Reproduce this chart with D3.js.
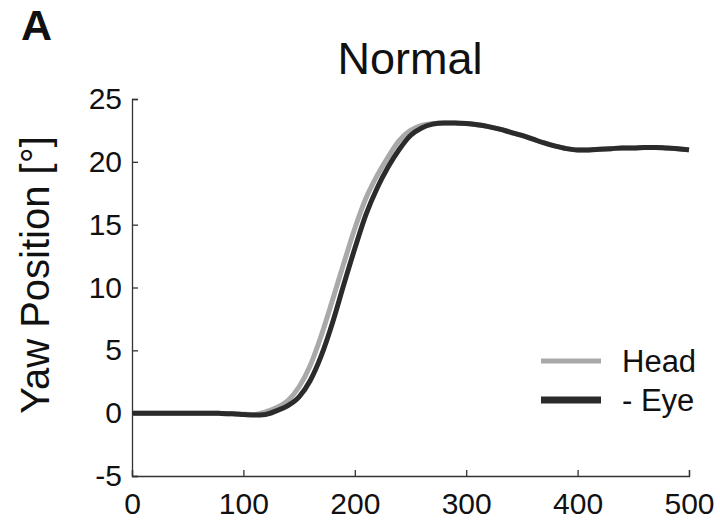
<!DOCTYPE html>
<html>
<head>
<meta charset="utf-8">
<script src="https://cdn.jsdelivr.net/npm/d3@7"></script>
<style>
  body { margin: 0; background: #fff; }
  text { font-family: "Liberation Sans", Arial, sans-serif; fill: #111; }
</style>
</head>
<body>
<script>
// time axis (ms) and yaw positions (deg)
const timeMs = [0, 10, 20, 30, 40, 50, 60, 70, 80, 90, 100, 110, 120, 130, 140, 150, 160, 170, 180, 190,
  200, 210, 220, 230, 240, 250, 260, 270, 280, 290, 300, 310, 320, 330, 340, 350, 360, 370, 380, 390,
  400, 410, 420, 430, 440, 450, 460, 470, 480, 490, 500];
const headYaw = [0, 0, 0, 0, 0, 0, 0, 0, -0.02, -0.05, -0.08, -0.1, 0.1, 0.45, 1.0, 2.1, 3.8, 6.2, 9.0, 11.9,
  14.7, 17.1, 18.9, 20.4, 21.7, 22.5, 22.9, 23.05, 23.1, 23.1, 23.05, 22.95, 22.8, 22.6, 22.35, 22.1, 21.8, 21.5, 21.25, 21.05,
  20.95, 20.95, 21.0, 21.05, 21.1, 21.1, 21.15, 21.15, 21.1, 21.05, 20.95];
const eyeYaw = [0, 0, 0, 0, 0, 0, 0, 0, -0.02, -0.05, -0.1, -0.15, -0.1, 0.2, 0.6, 1.3, 2.6, 4.6, 7.2, 10.2,
  13.1, 15.8, 17.9, 19.6, 21.0, 22.1, 22.7, 23.0, 23.1, 23.1, 23.05, 22.95, 22.8, 22.6, 22.35, 22.1, 21.8, 21.5, 21.25, 21.05,
  20.95, 20.95, 21.0, 21.05, 21.1, 21.1, 21.15, 21.15, 21.1, 21.05, 20.95];
const xTicks = [0, 100, 200, 300, 400, 500];
const yTicks = [-5, 0, 5, 10, 15, 20, 25];
const legendLabels = ["Head", "- Eye"];

const W = 720, H = 523;
const margin = { top: 99, right: 31, bottom: 47, left: 132 };
const width = W - margin.left - margin.right,
  height = H - margin.top - margin.bottom;

const svg = d3.select("body").append("svg")
  .attr("width", W).attr("height", H);

const g = svg.append("g")
  .attr("transform", "translate(" + margin.left + "," + margin.top + ")");

const x = d3.scaleLinear().domain([0, 500]).range([0, width]);
const y = d3.scaleLinear().domain([-5, 25]).range([height, 0]);

// plain hyphen for negatives, like the original figure
const fmt = d => String(d);

// axes, MATLAB style ticks pointing inward
const xAxis = g.append("g")
  .attr("transform", "translate(0," + height + ")")
  .call(d3.axisBottom(x).tickValues(xTicks).tickSize(-6).tickPadding(17).tickFormat(fmt));
const yAxis = g.append("g")
  .call(d3.axisLeft(y).tickValues(yTicks).tickSize(-6).tickPadding(10).tickFormat(fmt));

[xAxis, yAxis].forEach(a => {
  a.selectAll("path, line").attr("stroke", "#333").attr("stroke-width", 1.3);
  a.selectAll("text").style("font-size", "30px").attr("fill", "#111");
});

const line = d3.line()
  .x((d, i) => x(timeMs[i]))
  .y(d => y(d))
  .curve(d3.curveMonotoneX);

g.append("path").datum(headYaw)
  .attr("d", line).attr("fill", "none")
  .attr("stroke", "#a9a9a9").attr("stroke-width", 5);
g.append("path").datum(eyeYaw)
  .attr("d", line).attr("fill", "none")
  .attr("stroke", "#2b2b2b").attr("stroke-width", 5);

// legend
const legend = g.append("g").attr("transform", "translate(" + (541 - margin.left) + "," + (361 - margin.top) + ")");
const legendStyles = [{ c: "#a9a9a9", w: 5 }, { c: "#2b2b2b", w: 7 }];
legendLabels.forEach((lab, i) => {
  legend.append("line")
    .attr("x1", 0).attr("x2", 60).attr("y1", i * 39).attr("y2", i * 39)
    .attr("stroke", legendStyles[i].c).attr("stroke-width", legendStyles[i].w);
  legend.append("text")
    .attr("x", 81).attr("y", i * 39).attr("dy", "0.36em")
    .style("font-size", "31px").text(lab);
});

// titles
svg.append("text")
  .attr("x", 410).attr("y", 74).attr("text-anchor", "middle")
  .style("font-size", "45px").text("Normal");

svg.append("text")
  .attr("x", 21).attr("y", 40)
  .style("font-size", "43px").style("font-weight", "bold").text("A");

svg.append("text")
  .attr("transform", "translate(49," + 275 + ") rotate(-90)")
  .attr("text-anchor", "middle")
  .style("font-size", "40px").text("Yaw Position [°]");
</script>
</body>
</html>
